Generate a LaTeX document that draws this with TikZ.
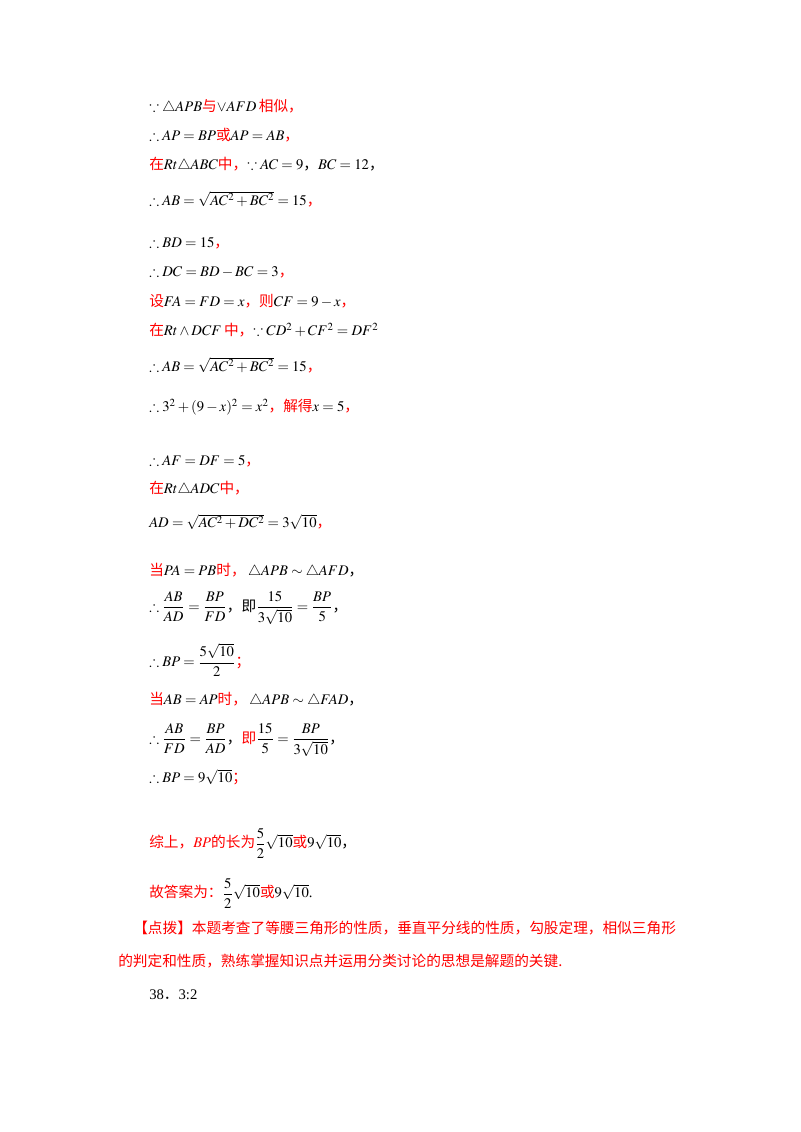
\documentclass[tikz,border=0pt]{standalone}
\usepackage{amsmath,amssymb}
\usepackage{mathptmx}
\usepackage{fontspec}
\setmainfont{Liberation Serif}
\newfontfamily\cjk{Noto Sans CJK SC}
\begin{document}
\begin{tikzpicture}[x=0.75pt,y=-0.75pt,
  ln/.style={anchor=west,inner sep=0pt,font=\fontsize{11}{13}\selectfont}]
\useasboundingbox (0,0) rectangle (800,1132);
\newcommand{\rd}[1]{\textcolor{red}{\cjk #1}}
\node[ln] (l1) at (149,107) {$\because\triangle APB$\rd{与}$\vee AFD$\,\rd{相似，}};
\node[ln] (l2) at (149,135) {$\therefore AP=BP$\rd{或}$AP=AB$\rd{，}};
\node[ln] (l3) at (149,165) {\rd{在}$Rt\triangle ABC$\rd{中，}$\because AC=9${\cjk ，}$BC=12${\cjk ，}};
\node[ln] (l4) at (149,199) {$\therefore AB=\sqrt{AC^2+BC^2}=15$\rd{，}};
\node[ln] (l5) at (149,243) {$\therefore BD=15$\rd{，}};
\node[ln] (l6) at (149,272) {$\therefore DC=BD-BC=3$\rd{，}};
\node[ln] (l7) at (149,301) {\rd{设}$FA=FD=x$\rd{，则}$CF=9-x$\rd{，}};
\node[ln] (l8) at (149,330) {\rd{在}$Rt\wedge DCF$\,\rd{中，}$\because CD^2+CF^2=DF^2$};
\node[ln] (l9) at (149,365) {$\therefore AB=\sqrt{AC^2+BC^2}=15$\rd{，}};
\node[ln] (l10) at (149,407) {$\therefore 3^2+(9-x)^2=x^2$\rd{，解得}$x=5$\rd{，}};
\node[ln] (l11) at (149,461) {$\therefore AF=DF=5$\rd{，}};
\node[ln] (l12) at (149,489) {\rd{在}$Rt\triangle ADC$\rd{中，}};
\node[ln] (l13) at (149,522) {$AD=\sqrt{AC^2+DC^2}=3\sqrt{10}$\rd{，}};
\node[ln] (l14) at (149,571) {\rd{当}$PA=PB$\rd{时，}\,$\triangle APB\sim\triangle AFD${\cjk ，}};
\node[ln] (l15) at (149,608) {$\therefore\dfrac{AB}{AD}=\dfrac{BP}{FD}${\cjk ，即}$\dfrac{15}{3\sqrt{10}}=\dfrac{BP}{5}${\cjk ，}};
\node[ln] (l16) at (149,660) {$\therefore BP=\dfrac{5\sqrt{10}}{2}$\rd{；}};
\node[ln] (l17) at (149,700) {\rd{当}$AB=AP$\rd{时，}\,$\triangle APB\sim\triangle FAD${\cjk ，}};
\node[ln] (l18) at (149,740) {$\therefore\dfrac{AB}{FD}=\dfrac{BP}{AD}${\cjk ，}\rd{即}$\dfrac{15}{5}=\dfrac{BP}{3\sqrt{10}}${\cjk ，}};
\node[ln] (l19) at (149,777) {$\therefore BP=9\sqrt{10}$\rd{；}};
\node[ln] (l20) at (149,843) {\rd{综上，}\textcolor{red}{$BP$}\rd{的长为}$\dfrac{5}{2}\sqrt{10}$\rd{或}$9\sqrt{10}${\cjk ，}};
\node[ln] (l21) at (149,893) {\rd{故答案为：}$\dfrac{5}{2}\sqrt{10}$\rd{或}$9\sqrt{10}$.};
\node[ln] (l22) at (133,928) {\rd{【点拨】本题考查了等腰三角形的性质，垂直平分线的性质，勾股定理，相似三角形}};
\node[ln] (l23) at (118,961) {\rd{的判定和性质，熟练掌握知识点并运用分类讨论的思想是解题的关键.}};
\node[ln] (l24) at (149,995) {38{\cjk ．}3:2};
\end{tikzpicture}
\end{document}
